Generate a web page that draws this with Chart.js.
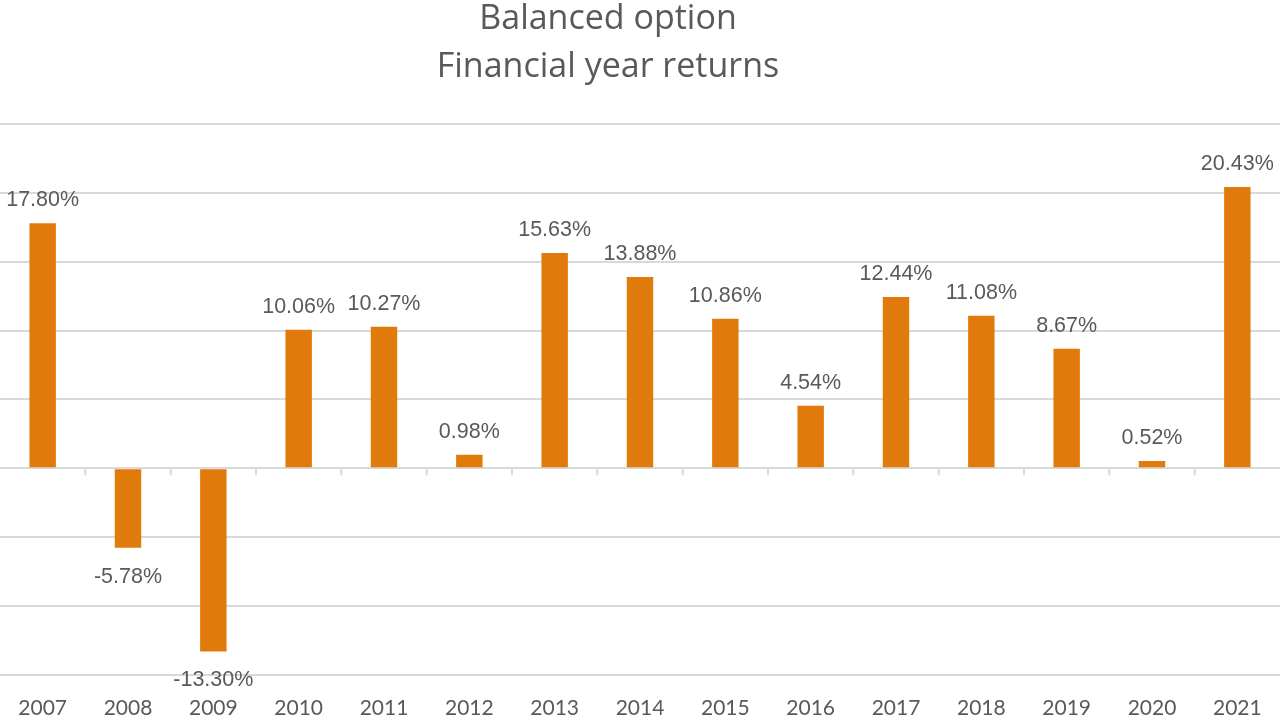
<!doctype html>
<html>

<head>
    <title>Balanced option</title>
    <script src="https://cdn.jsdelivr.net/npm/chart.js"></script>
    <style>
        html, body { margin: 0; padding: 0; background: #fff; }
        #wrap { width: 1280px; height: 720px; }
    </style>
</head>

<body>
    <div id="wrap"><canvas id="retornos"></canvas></div>

    <script>
        const anos = ['2007', '2008', '2009', '2010', '2011', '2012', '2013', '2014',
            '2015', '2016', '2017', '2018', '2019', '2020', '2021'];
        const retornos = [17.80, -5.78, -13.30, 10.06, 10.27, 0.98, 15.63, 13.88,
            10.86, 4.54, 12.44, 11.08, 8.67, 0.52, 20.43];
        const titulo = ['Balanced option', 'Financial year returns'];

        const cinza = '#595959';

        // titulo desenhado a mao (no original fica um pouco a esquerda do centro)
        const cabecalho = {
            id: 'cabecalho',
            afterDraw(chart) {
                const ctx = chart.ctx;
                ctx.save();
                ctx.font = '34px "Open Sans", sans-serif';
                ctx.fillStyle = cinza;
                ctx.textAlign = 'center';
                ctx.textBaseline = 'middle';
                ctx.fillText(titulo[0], 608, 19);
                ctx.fillText(titulo[1], 608, 67);
                ctx.restore();
            }
        };

        // rotulos de valor acima/abaixo das barras
        const rotulos = {
            id: 'rotulos',
            afterDatasetsDraw(chart) {
                const ctx = chart.ctx;
                const meta = chart.getDatasetMeta(0);
                ctx.save();
                ctx.font = '21.5px "Liberation Sans", Arial, sans-serif';
                ctx.fillStyle = cinza;
                ctx.textAlign = 'center';
                ctx.textBaseline = 'middle';
                meta.data.forEach((bar, i) => {
                    const v = retornos[i];
                    const y = v >= 0 ? bar.y - 23 : bar.y + 29;
                    ctx.fillText(v.toFixed(2) + '%', bar.x, y);
                });
                ctx.restore();
            }
        };

        // pequenos tracos no eixo zero entre as categorias
        const tracos = {
            id: 'tracos',
            afterDatasetsDraw(chart) {
                const ctx = chart.ctx;
                const x = chart.scales.x;
                const y0 = chart.scales.y.getPixelForValue(0);
                ctx.save();
                ctx.strokeStyle = '#d9d9d9';
                ctx.lineWidth = 2;
                for (let i = 1; i < anos.length; i++) {
                    const px = (x.getPixelForValue(i - 1) + x.getPixelForValue(i)) / 2;
                    ctx.beginPath();
                    ctx.moveTo(px, y0);
                    ctx.lineTo(px, y0 + 7);
                    ctx.stroke();
                }
                ctx.restore();
            }
        };

        new Chart(document.getElementById('retornos').getContext('2d'), {
            type: 'bar',
            data: {
                labels: anos,
                datasets: [{
                    data: retornos,
                    backgroundColor: '#E07A0B',
                    barPercentage: 0.31,
                    categoryPercentage: 1
                }]
            },
            options: {
                responsive: true,
                maintainAspectRatio: false,
                animation: false,
                layout: { padding: { top: 124, left: 0, right: 0, bottom: -22 } },
                plugins: {
                    legend: { display: false },
                    tooltip: { enabled: false },
                    title: { display: false }
                },
                scales: {
                    x: {
                        grid: { display: false, drawTicks: false },
                        border: { display: false },
                        ticks: {
                            color: cinza,
                            padding: 21,
                            font: { family: 'Lato, sans-serif', size: 21 }
                        },
                        afterFit(s) {
                            s.paddingLeft = 0;
                            s.paddingRight = 0;
                        }
                    },
                    y: {
                        min: -15,
                        max: 25,
                        ticks: { stepSize: 5, display: false },
                        grid: { color: '#d9d9d9', lineWidth: 2, drawTicks: false },
                        border: { display: false },
                        afterFit(s) {
                            s.width = 0;
                        }
                    }
                }
            },
            plugins: [cabecalho, rotulos, tracos]
        });
    </script>
</body>
</html>
